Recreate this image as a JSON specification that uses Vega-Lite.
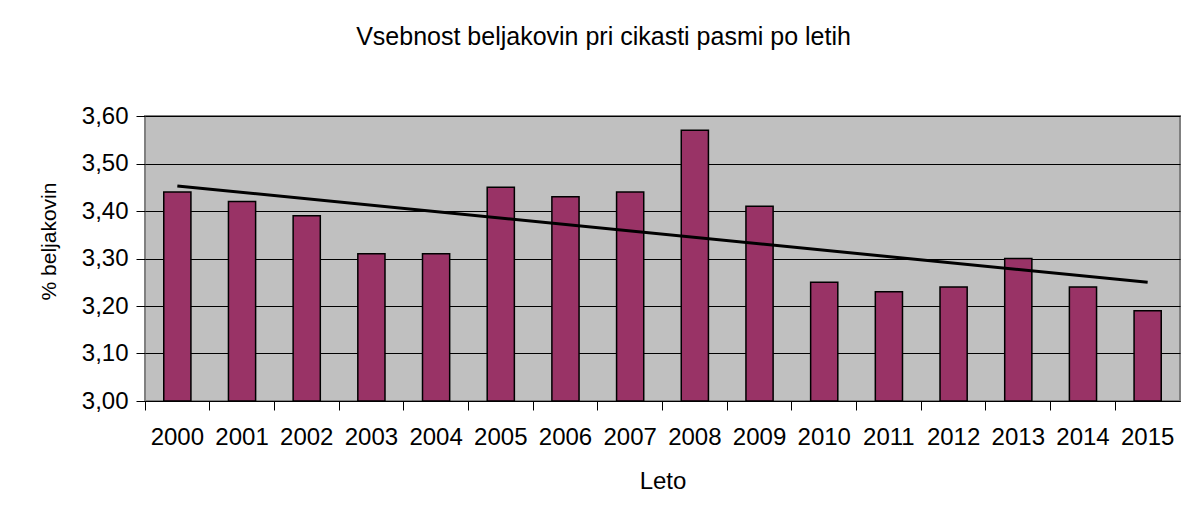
{
  "$schema": "https://vega.github.io/schema/vega-lite/v6.json",
  "width": 1035,
  "height": 285,
  "autosize": {"type": "none"},
  "padding": {"left": 145, "top": 116, "right": 6, "bottom": 117},
  "background": "white",
  "title": {
    "text": "Vsebnost beljakovin pri cikasti pasmi po letih",
    "fontSize": 25,
    "fontWeight": "normal",
    "font": "Liberation Sans",
    "color": "black",
    "frame": "group",
    "anchor": "middle",
    "dx": -59,
    "baseline": "alphabetic",
    "offset": 34
  },
  "data": {
    "values": [
      {"leto": 2000, "vrednost": 3.44},
      {"leto": 2001, "vrednost": 3.42},
      {"leto": 2002, "vrednost": 3.39},
      {"leto": 2003, "vrednost": 3.31},
      {"leto": 2004, "vrednost": 3.31},
      {"leto": 2005, "vrednost": 3.45},
      {"leto": 2006, "vrednost": 3.43},
      {"leto": 2007, "vrednost": 3.44},
      {"leto": 2008, "vrednost": 3.57},
      {"leto": 2009, "vrednost": 3.41},
      {"leto": 2010, "vrednost": 3.25},
      {"leto": 2011, "vrednost": 3.23},
      {"leto": 2012, "vrednost": 3.24},
      {"leto": 2013, "vrednost": 3.30},
      {"leto": 2014, "vrednost": 3.24},
      {"leto": 2015, "vrednost": 3.19}
    ]
  },
  "layer": [
    {
      "mark": {"type": "bar", "fill": "#993366", "stroke": "black", "strokeWidth": 1.5, "width": {"band": 0.42}},
      "encoding": {
        "x": {
          "field": "leto",
          "type": "ordinal",
          "scale": {"paddingInner": 0, "paddingOuter": 0},
          "axis": {
            "orient": "bottom",
            "ticks": false,
            "tickSize": 0,
            "domain": false,
            "grid": false,
            "labelAngle": 0,
            "labelFontSize": 24,
            "labelPadding": 24,
            "labelColor": "black",
            "title": "Leto",
            "titleFontSize": 24,
            "titleFontWeight": "normal",
            "titleColor": "black",
            "titleY": 87,
            "titleBaseline": "alphabetic"
          }
        },
        "y": {
          "field": "vrednost",
          "type": "quantitative",
          "scale": {"domain": [3, 3.6], "zero": false, "nice": false},
          "axis": {
            "values": [3, 3.1, 3.2, 3.3, 3.4, 3.5, 3.6],
            "labelExpr": "replace(format(datum.value, '.2f'), '.', ',')",
            "labelFontSize": 24,
            "labelColor": "black",
            "labelPadding": 8,
            "tickSize": 9,
            "tickColor": "black",
            "domain": false,
            "grid": true,
            "gridColor": "black",
            "gridWidth": 1,
            "title": "% beljakovin",
            "titleFontSize": 21,
            "titleFontWeight": "normal",
            "titleColor": "black",
            "titleAngle": -90,
            "titleX": -90,
            "titleY": 125,
            "titleAlign": "center",
            "titleBaseline": "alphabetic"
          }
        },
        "y2": {"datum": 3}
      }
    },
    {
      "transform": [{"regression": "vrednost", "on": "leto"}],
      "mark": {"type": "line", "color": "black", "strokeWidth": 3},
      "encoding": {
        "x": {
          "field": "leto",
          "type": "ordinal",
          "axis": {
            "orient": "bottom",
            "labels": false,
            "ticks": true,
            "tickSize": 9,
            "tickColor": "black",
            "bandPosition": 0,
            "domain": true,
            "domainColor": "black",
            "domainWidth": 1,
            "grid": false,
            "title": null
          }
        },
        "y": {"field": "vrednost", "type": "quantitative"}
      }
    }
  ],
  "resolve": {"axis": {"x": "independent"}},
  "config": {
    "font": "Liberation Sans",
    "view": {"fill": "#C0C0C0", "stroke": "#808080", "strokeWidth": 2}
  }
}
